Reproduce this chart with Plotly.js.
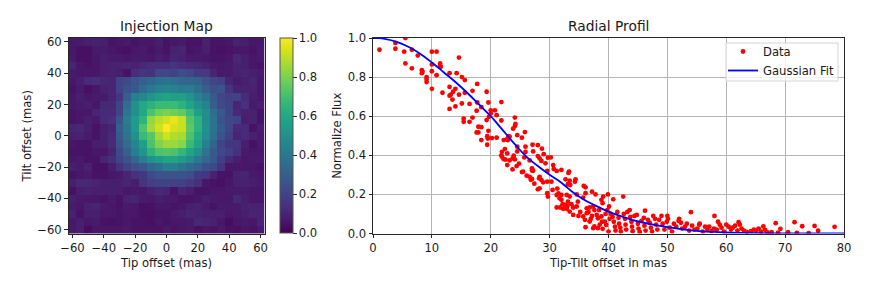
<!DOCTYPE html>
<html><head><meta charset="utf-8">
<script src="https://cdn.plot.ly/plotly-3.0.1.min.js"></script>
<style>html,body{margin:0;padding:0;background:#fff}#c{width:872px;height:289px}</style>
</head><body><div id="c"></div>
<script>
const tipOffset=[-60,-55,-50,-45,-40,-35,-30,-25,-20,-15,-10,-5,0,5,10,15,20,25,30,35,40,45,50,55,60];
const tiltOffset=[60,55,50,45,40,35,30,25,20,15,10,5,0,-5,-10,-15,-20,-25,-30,-35,-40,-45,-50,-55,-60];
const injectionPercent=[
[6,7,8,9,8,5,6,7,5,6,6,8,5,6,7,5,5,9,5,5,6,9,8,6,6],
[6,4,4,7,7,6,5,4,6,7,5,7,5,9,10,5,6,8,5,4,5,6,6,5,7],
[7,4,4,6,8,7,7,6,7,7,6,8,7,10,9,7,7,6,5,5,6,11,8,6,7],
[10,6,5,6,8,9,9,10,9,11,13,13,13,15,13,12,11,9,7,6,7,9,8,6,5],
[7,6,6,6,8,9,8,5,13,15,14,21,21,19,24,21,17,17,10,7,7,9,10,8,7],
[6,8,12,13,11,10,20,22,27,30,33,37,38,36,33,32,31,25,21,18,10,7,8,10,6],
[5,7,4,6,9,10,20,25,28,35,40,44,45,44,41,42,36,30,24,25,15,9,9,9,6],
[6,8,6,7,7,10,16,30,43,46,52,56,58,56,57,52,44,38,28,21,18,19,12,8,6],
[6,7,8,6,11,11,20,35,50,60,64,68,68,68,64,58,50,44,29,23,19,10,14,7,8],
[5,6,6,10,12,12,20,40,50,60,72,78,80,78,76,68,57,48,35,28,20,12,9,9,5],
[5,6,8,7,12,14,25,42,55,65,84,90,93,97,92,73,64,48,38,26,21,20,8,9,5],
[10,11,8,5,8,10,30,40,55,72,86,93,100,94,92,75,64,50,38,28,21,12,12,5,8],
[8,9,7,5,8,12,28,38,50,68,74,86,93,88,87,72,60,48,36,25,18,10,12,9,7],
[6,5,5,8,8,12,25,35,45,57,72,81,85,85,82,68,58,43,32,20,16,15,8,4,7],
[5,5,5,6,6,10,22,30,42,52,65,72,73,72,66,58,50,38,28,22,18,14,7,6,6],
[6,7,5,5,10,13,20,25,33,42,50,55,58,58,54,48,40,34,27,18,12,8,6,7,7],
[8,7,9,4,4,8,14,20,24,27,33,36,42,42,38,34,30,24,22,15,6,6,6,6,5],
[5,6,7,5,5,6,7,10,14,16,22,25,25,26,26,24,17,16,9,5,5,9,10,7,6],
[8,11,11,10,8,8,8,10,8,15,18,19,20,19,19,17,14,6,5,4,6,9,9,8,7],
[4,8,9,8,8,8,8,6,7,6,9,11,10,5,10,8,5,5,6,6,7,7,7,6,6],
[8,7,6,6,5,7,5,9,10,7,6,8,7,7,5,5,6,8,7,6,6,11,8,6,6],
[7,6,9,10,7,6,5,7,6,4,5,6,6,5,6,8,9,7,5,7,7,7,9,9,9],
[9,5,8,8,6,6,5,6,6,4,4,5,5,7,8,10,9,8,8,8,6,7,8,10,9],
[6,8,6,7,5,4,5,6,5,5,4,6,5,6,6,7,11,10,9,6,3,6,7,6,10],
[7,8,3,6,6,6,6,7,5,5,5,5,7,5,6,7,4,6,5,7,5,4,6,5,7]];
const radialPoints=[
[1.1,.94],[3.8,.975],[3.8,.945],[5.5,1],[5.3,.93],[6.6,.94],[5.5,.87],[6.6,.845],[7.6,.91],[8.3,.835],[8.3,.82],[8.4,.827],[9.1,.8],[9.1,.79],[9.1,.775],[10,.93],[10.8,.93],[10,.865],[10,.83],[10,.74],[10.8,.81],[11.4,.87],[11.4,.86],[11.5,.852],[11.8,.72],[13,.82],[14.2,.82],[14.6,.9],[15.1,.8],[15.6,.785],[13,.75],[14,.74],[13.6,.725],[14.6,.71],[13.2,.71],[13,.705],[13.5,.685],[15.6,.72],[16.9,.73],[17.7,.765],[19.3,.725],[15.1,.665],[16.4,.663],[14,.65],[13,.637],[17.7,.67],[18.4,.646],[19.6,.67],[21.8,.672],[17.6,.628],[20.7,.63],[20,.63],[20,.614],[21,.605],[16.9,.593],[15.4,.588],[15.4,.571],[16.4,.571],[19.3,.58],[19.7,.597],[21.8,.578],[24.1,.593],[24.2,.56],[24.1,.55],[23.8,.536],[17.9,.546],[18.4,.544],[17.6,.517],[17.9,.517],[19.6,.525],[25.8,.519],[24.5,.503],[19.4,.498],[19.5,.486],[20.2,.488],[21,.49],[18.4,.478],[19.4,.454],[23,.498],[23.2,.495],[22.7,.481],[22.2,.478],[25.3,.49],[22.9,.478],[24.5,.444],[25.9,.444],[27.1,.454],[28,.452],[28.7,.434],[27.2,.42],[25.9,.417],[24.5,.42],[22.4,.432],[21.9,.418],[21.8,.4],[22.8,.41],[21.9,.393],[22.2,.38],[22.5,.378],[23.2,.374],[23.9,.398],[23.7,.384],[24.1,.379],[25.7,.389],[26.6,.374],[28,.396],[28.3,.384],[29,.406],[29.7,.388],[30.2,.389],[29.3,.359],[28.6,.371],[24.8,.357],[24.4,.345],[22.8,.35],[23.7,.328],[27,.333],[27.2,.321],[27,.322],[25.5,.316],[25.3,.314],[26.1,.296],[26.6,.29],[27,.279],[27.4,.255],[26.8,.275],[28.3,.29],[28.2,.282],[28.6,.274],[28.9,.262],[28.3,.231],[28,.226],[29.6,.32],[29.6,.265],[30.3,.265],[29.6,.206],[29.7,.189],[30.5,.223],[30.6,.35],[30.7,.33],[31.2,.32],[32,.325],[33.2,.31],[33.3,.316],[32.7,.277],[33.4,.27],[34.4,.277],[34.3,.265],[33.5,.248],[33.1,.252],
[31.3,.23],[31.5,.205],[31.2,.197],[32,.197],[31.7,.18],[32,.172],[31.2,.133],[31.8,.133],[32.3,.126],[32.9,.197],[33.4,.189],[33.1,.163],[32.6,.146],[32.9,.126],[33.4,.112],[34,.095],[34,.133],[34.6,.138],[34.8,.163],[34.6,.2],[35.7,.184],[35.8,.243],[36.1,.236],[36.1,.206],[37.2,.214],[37.8,.2],[35.7,.087],[36.1,.032],[36.3,.129],[36.8,.133],[37.4,.138],[36.3,.104],[36,.07],[36.8,.061],[37.6,.036],[37.4,.027],[38.2,.027],[38.8,.172],[39.1,.189],[39.9,.2],[39,.155],[38,.095],[38.2,.078],[38.8,.087],[39.4,.061],[40.1,.138],[39.6,.044],[39,.024],[40,.01],[36.6,.11],[37.2,.09],[37.6,.12],[38.4,.12],[35.2,.11],[34.9,.09],[33,.14],[32.2,.15],[33.7,.15],[38.9,.06],[39.5,.1],[40.2,.075],[39.8,.12],[37,.075],[38.5,.045],
[40.8,.175],[42.5,.189],[46.2,.117],[54,.109],[58,.09],[58.6,.06],[62.1,.058],[68.4,.053],[69.2,.024],[71.6,.058],[72.9,.037],[75,.039],[75.6,.014],[78.4,.034],[70.5,.007],[66.3,.036],[66.6,.019],[67.7,.007],
[40.4,.1],[40.7,.085],[40.9,.06],[41.1,.035],[41.2,.015],[41.5,.11],[41.7,.08],[41.8,.05],[42,.03],[42.1,.01],[42.6,.1],[42.8,.075],[42.9,.045],[43,.02],[43.2,.11],[43.6,.12],[43.7,.085],[43.9,.06],[44,.035],[44.1,.012],[44.4,.09],[44.8,.095],[45,.05],[45.1,.025],[45.3,.008],[45.6,.065],[46,.08],[46.1,.04],[46.3,.015],[46.7,.07],[47,.055],[47.2,.03],[47.4,.01],[47.6,.09],[47.9,.075],[48.1,.045],[48.3,.02],[48.6,.07],[49,.09],[49.2,.05],[49.5,.02],[49.9,.06],[50,.09],[50.1,.075],[50.4,.03],[50.8,.01],[51.1,.05],[51.5,.035],[51.9,.065],[52,.075],[52.3,.055],[52.5,.025],[53,.035],[53.3,.05],[53.7,.015],[54.2,.04],[54.6,.02],[55.1,.025],[55.4,.045],[55.5,.05],[56,.01],[56.4,.035],[56.8,.02],[57.1,.035],[57.5,.012],[57.9,.025],[58.4,.02],[58.9,.045],[59.2,.03],[59.6,.01],[60,.045],[60.4,.035],[60.8,.02],[61.1,.03],[61.5,.04],[61.9,.015],[62.3,.045],[62.6,.025],[63,.015],[63.5,.008],[64.2,.012],[64.7,.02],[65.1,.015],[65.5,.025],[65.9,.01],[67,.006],[68.8,.004],[72,.003],[74,.002]];
const fitOffset=[0,1,2,4,6,8,10,12,14,16,18,20,22,24,26,28,30,32,34,36,38,40,42,44,46,48,50,52,54,56,58,60,64,68,72,76,80];
const fitFlux=[1,.999,.995,.98,.955,.92,.875,.825,.775,.72,.66,.6,.53,.46,.395,.345,.3,.26,.21,.17,.14,.112,.09,.07,.055,.043,.033,.024,.016,.011,.008,.005,.003,.001,0,0,0];

const W=872,H=289;
const fx=p=>p/W, fy=p=>1-p/H;
const TXT='#1a1a1a', LBL=11.6;
const tickFont={family:'"DejaVu Sans"',size:LBL,color:TXT};
const axisBase={showline:true,mirror:true,linecolor:'#262626',linewidth:1,ticks:'outside',ticklen:3.5,tickwidth:1,tickcolor:'#262626',tickfont:tickFont,zeroline:false,title:{font:{family:'"DejaVu Sans"',size:LBL,color:TXT}}};
const traces=[
{type:'heatmap',x:tipOffset,y:tiltOffset,z:injectionPercent.map(r=>r.map(v=>v/100)),zmin:0,zmax:1,colorscale:'Viridis',xaxis:'x',yaxis:'y',showlegend:false,
 colorbar:{thickness:13,thicknessmode:'pixels',len:195,lenmode:'pixels',x:fx(279.5),xanchor:'left',y:fy(233),yanchor:'bottom',xpad:0,ypad:0,tickvals:[0,.2,.4,.6,.8,1],ticktext:['0.0','0.2','0.4','0.6','0.8','1.0'],ticks:'outside',ticklen:3.5,tickwidth:1,tickcolor:'#262626',tickfont:tickFont,outlinecolor:'#555',outlinewidth:1}},
{type:'scatter',mode:'markers',name:'Data',x:radialPoints.map(p=>p[0]),y:radialPoints.map(p=>p[1]),xaxis:'x2',yaxis:'y2',marker:{color:'#ff0000',size:4.8},cliponaxis:true},
{type:'scatter',mode:'lines',name:'Gaussian Fit',x:fitOffset,y:fitFlux,xaxis:'x2',yaxis:'y2',line:{color:'#0000ff',width:1.8,shape:'spline'}}
];
const layout={width:W,height:H,margin:{l:0,r:0,t:0,b:0},paper_bgcolor:'#fff',plot_bgcolor:'#fff',showlegend:true,
 font:{family:'"DejaVu Sans"',size:LBL,color:TXT},
 xaxis:{...axisBase,domain:[fx(68.5),fx(264.5)],range:[-62.5,62.5],tickvals:[-60,-40,-20,0,20,40,60],showgrid:false,title:{...axisBase.title,text:'Tip offset (mas)',standoff:4},anchor:'y'},
 yaxis:{...axisBase,domain:[fy(233.5),fy(38)],range:[-62.5,62.5],tickvals:[-60,-40,-20,0,20,40,60],showgrid:false,title:{...axisBase.title,text:'Tilt offset (mas)',standoff:3},anchor:'x'},
 xaxis2:{...axisBase,domain:[fx(373),fx(844)],range:[0,80],tickvals:[0,10,20,30,40,50,60,70,80],showgrid:true,gridcolor:'#b4b4b4',gridwidth:1,title:{...axisBase.title,text:'Tip-Tilt offset in mas',standoff:4},anchor:'y2'},
 yaxis2:{...axisBase,domain:[fy(233.5),fy(38)],range:[0,1],tickvals:[0,.2,.4,.6,.8,1],ticktext:['0.0','0.2','0.4','0.6','0.8','1.0'],showgrid:true,gridcolor:'#b4b4b4',gridwidth:1,title:{...axisBase.title,text:'Normalize Flux',standoff:3},anchor:'x2'},
 legend:{x:fx(723),xanchor:'left',y:fy(37),yanchor:'top',bgcolor:'rgba(0,0,0,0)',borderwidth:0,font:{family:'"DejaVu Sans"',size:LBL,color:TXT},itemwidth:30,tracegroupgap:0},
 shapes:[{type:'rect',xref:'paper',yref:'paper',x0:fx(726),x1:fx(838),y0:fy(81),y1:fy(43),fillcolor:'rgba(255,255,255,0.8)',line:{color:'#d4d4d4',width:1},layer:'above'}],
 annotations:[
 {text:'Injection Map',xref:'paper',yref:'paper',x:fx(166.5),y:fy(26),xanchor:'center',yanchor:'middle',showarrow:false,font:{family:'"DejaVu Sans"',size:13.8,color:TXT}},
 {text:'Radial Profil',xref:'paper',yref:'paper',x:fx(608.5),y:fy(26),xanchor:'center',yanchor:'middle',showarrow:false,font:{family:'"DejaVu Sans"',size:13.8,color:TXT}}
 ]};
Plotly.newPlot('c',traces,layout,{displayModeBar:false,responsive:false});
</script></body></html>
